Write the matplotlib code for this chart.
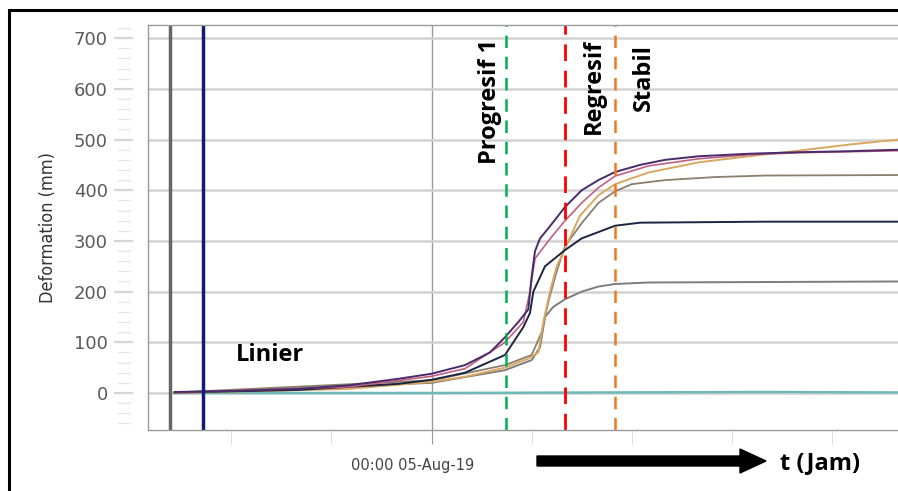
import matplotlib.pyplot as plt
from matplotlib.patches import Rectangle, FancyArrow
from matplotlib.transforms import ScaledTranslation, blended_transform_factory

# time in hours relative to 00:00 05-Aug-19
t_purple = [-15.4, -12, -8, -5, -2, 0, 2, 3.5, 4.4, 5.2, 5.8, 6.0, 6.2, 6.5, 7, 8, 9, 10, 11, 12.5, 14, 16, 19, 22, 25, 28]
v_purple = [2, 4, 8, 15, 28, 38, 55, 80, 110, 140, 165, 230, 280, 305, 325, 367, 400, 420, 436, 450, 460, 467, 472, 475, 477, 480]

t_pink = [-15.4, -5, 0, 2, 4.4, 5.5, 5.9, 6.2, 7, 8, 9, 10, 11, 13, 16, 19, 22, 25, 28]
v_pink = [1, 12, 33, 48, 100, 140, 200, 265, 300, 340, 375, 405, 428, 448, 462, 470, 474, 476, 478]

t_navy = [-15.4, -8, -2, 0, 2, 4.4, 5.5, 5.9, 6.1, 6.8, 8, 9, 11, 12.5, 20, 28]
v_navy = [1, 6, 18, 26, 40, 75, 130, 158, 200, 250, 282, 305, 330, 336, 338, 338]

t_orange = [-15.4, -5, 0, 2, 4.4, 5.8, 6.4, 6.7, 7.1, 7.5, 8, 8.9, 10, 11, 13, 16, 19, 22, 25, 28]
v_orange = [0, 8, 22, 32, 50, 68, 80, 140, 200, 250, 285, 350, 390, 412, 435, 455, 467, 478, 490, 500]

t_taupe = [-15.4, 0, 4.4, 6, 6.6, 7, 7.5, 8, 9, 10, 11, 12, 14, 17, 20, 28]
v_taupe = [1, 25, 55, 75, 120, 180, 240, 290, 335, 375, 398, 412, 420, 426, 429, 430]

t_gray = [-15.4, 0, 4.4, 6, 6.5, 6.8, 7.3, 8, 9, 10, 11, 13, 28]
v_gray = [0, 20, 45, 65, 90, 150, 170, 185, 200, 210, 215, 218, 220]

t_teal = [-15.4, 0, 10, 20, 28]
v_teal = [0, 0, 1, 2, 1]

# phase markers (hours)
t_start_gray = -15.7
t_start_navy = -13.7
t_progresif = 4.44
t_regresif = 7.98
t_stabil = 10.98

y_major = list(range(0, 701, 100))
y_minor = list(range(-60, 721, 20))

fig = plt.figure(figsize=(8.98, 4.91), dpi=100)
ax = fig.add_axes([148/898, 1-430/491, 1-148/898, (430-25)/491])

ax.plot(t_teal, v_teal, color='#6fb8b8', lw=1.8)
ax.plot(t_gray, v_gray, color='#7d7d7d', lw=1.4)
ax.plot(t_taupe, v_taupe, color='#8a7f6e', lw=1.3)
ax.plot(t_orange, v_orange, color='#d9a760', lw=1.4)
ax.plot(t_navy, v_navy, color='#1c2540', lw=1.4)
ax.plot(t_pink, v_pink, color='#c06080', lw=1.2)
ax.plot(t_purple, v_purple, color='#4a2a6a', lw=1.4)

ax.axvline(t_start_gray, color='#666666', lw=2.5)
ax.axvline(t_start_navy, color='#141a78', lw=2.5)
ax.axvline(t_progresif, color='#00b050', lw=1.8, ls=(0, (5, 3.5)))
ax.axvline(t_regresif, color='#ff0000', lw=2.0, ls=(0, (6, 3.5)))
ax.axvline(t_stabil, color='#f07818', lw=1.8, ls=(0, (5, 3.5)))

ax.set_xlim(-17.0, 27.96)
ax.set_ylim(-73, 726)
ax.set_yticks(y_major)
ax.set_xticks([0])
ax.set_xticklabels(['00:00 05-Aug-19'])
ax.set_xticks([-12, -6, 6, 12, 18, 24], minor=True)
ax.grid(axis='y', which='major', color='#d2d2d2', lw=1.8)
ax.grid(axis='x', which='major', color='#9a9a9a', lw=1.0)
ax.tick_params(axis='y', which='major', length=0, labelsize=13,
               labelcolor='#5a5a5a', pad=29)
ax.tick_params(axis='x', which='major', length=10, color='#9a9a9a',
               labelsize=10.5, labelcolor='#444444', pad=10)
ax.tick_params(axis='x', which='minor', length=10, color='#d8d8d8')
for lab in ax.get_xticklabels():
    lab.set_transform(lab.get_transform() + ScaledTranslation(-0.19, 0, fig.dpi_scale_trans))
for s in ax.spines.values():
    s.set_color('#9a9a9a')
    s.set_linewidth(1.0)
ax.spines['right'].set_visible(False)

# detached tick dashes left of the axis
trans = blended_transform_factory(ax.transAxes, ax.transData)
for y in y_minor:
    ax.plot([-0.040, -0.024], [y, y], color='#e6e6e6', lw=1.0, transform=trans, clip_on=False)
for y in y_major:
    ax.plot([-0.044, -0.021], [y, y], color='#d6d6d6', lw=1.6, transform=trans, clip_on=False)

ax.set_ylabel('Deformation (mm)', fontsize=13, color='#333333',
              fontstretch='condensed', labelpad=12)

txt = dict(fontsize=17, fontweight='bold', fontfamily='Open Sans', color='black')
ax.text(-9.7, 75, 'Linier', ha='center', va='center', **txt)
ax.text(3.5, 698, 'Progresif 1', rotation=90, ha='center', va='top', **txt)
ax.text(9.7, 698, 'Regresif', rotation=90, ha='center', va='top', **txt)
ax.text(12.7, 688, 'Stabil', rotation=90, ha='center', va='top', **txt)

# time arrow and label (figure coordinates)
fig.patches.append(FancyArrow(537/898, 1-461/491, (740-537)/898, 0, width=10/491,
                              head_width=24/491, head_length=26/898,
                              length_includes_head=False, color='black',
                              transform=fig.transFigure, figure=fig))
fig.text(820/898, 1-463/491, 't (Jam)', ha='center', va='center', **txt)

# outer frame
fig.patches.append(Rectangle((9/898, -0.05), 1.1, 1-10/491+0.05, fill=False,
                             edgecolor='black', lw=2.2, transform=fig.transFigure, figure=fig))

fig.savefig('out.png', dpi=100)
